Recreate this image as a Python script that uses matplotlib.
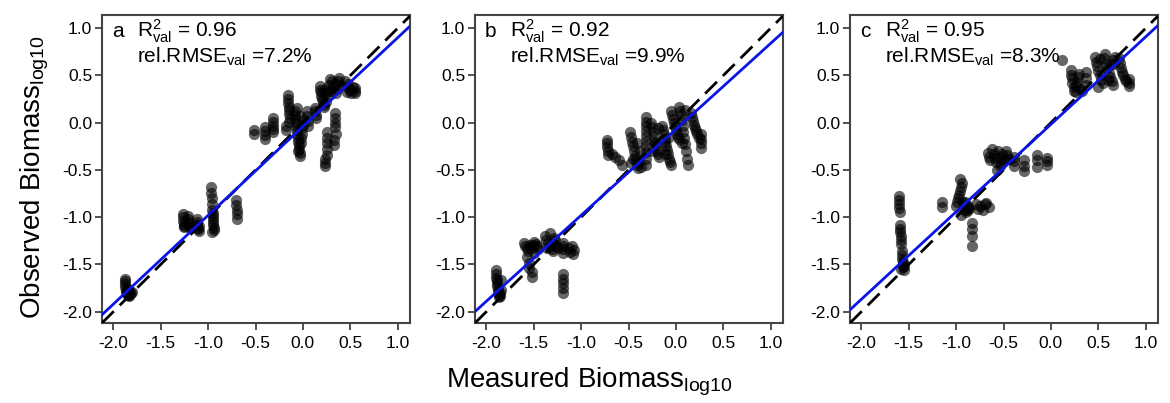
import matplotlib
matplotlib.use('Agg')
import matplotlib.pyplot as plt

plt.rcParams['font.family'] = ['Liberation Sans', 'DejaVu Sans']
plt.rcParams['mathtext.fontset'] = 'custom'
plt.rcParams['mathtext.rm'] = 'Liberation Sans'
plt.rcParams['mathtext.it'] = 'Liberation Sans:italic'

# --- panel a: measured vs observed (log10) ---
xa = [-1.88, -1.88, -1.88, -1.88, -1.87, -1.87, -1.86, -1.85, -1.84, -1.83, -1.82, -1.81, -1.80, -1.83, -1.85, -1.86,
      -1.27, -1.27, -1.27, -1.26, -1.26, -1.25, -1.21, -1.21, -1.20, -1.20, -1.19, -1.18,
      -1.12, -1.12, -1.12, -1.11, -1.11, -1.10, -1.10,
      -0.97, -0.97, -0.96, -0.96, -0.96, -0.95, -0.95, -0.95, -0.95, -0.95, -0.94, -0.94, -0.96,
      -0.71, -0.71, -0.70, -0.70, -0.70,
      -0.52, -0.52, -0.40, -0.40, -0.40, -0.40, -0.32, -0.32, -0.32, -0.32, -0.32,
      -0.16, -0.16, -0.16, -0.15, -0.15, -0.15, -0.14, -0.15, -0.18, -0.18,
      -0.08, -0.08, -0.08, -0.07, -0.07, -0.06, -0.06, -0.05, -0.05, -0.04, -0.04, -0.03, -0.03,
      -0.02, -0.02, -0.01, -0.01, 0.00, 0.00, -0.05, -0.03, -0.06,
      0.04, 0.04, 0.05, 0.05, 0.13, 0.13, 0.14, 0.14,
      0.18, 0.18, 0.19, 0.19, 0.20, 0.21, 0.22, 0.22, 0.23, 0.23, 0.25, 0.24, 0.26,
      0.25, 0.25, 0.25, 0.25, 0.25, 0.23, 0.23, 0.23,
      0.34, 0.34, 0.34, 0.34, 0.35, 0.33, 0.33,
      0.28, 0.29, 0.30, 0.31, 0.32, 0.34, 0.35, 0.36, 0.37, 0.38, 0.39, 0.44, 0.46, 0.47,
      0.48, 0.50, 0.51, 0.53, 0.55, 0.55, 0.55]
ya = [-1.65, -1.68, -1.71, -1.74, -1.77, -1.79, -1.81, -1.82, -1.83, -1.82, -1.81, -1.80, -1.79, -1.78, -1.76, -1.80,
      -0.97, -1.00, -1.04, -1.07, -1.10, -1.09, -0.99, -1.02, -1.05, -1.08, -1.11, -1.10,
      -1.02, -1.05, -1.08, -1.11, -1.13, -1.15, -1.09,
      -0.68, -0.74, -0.80, -0.86, -0.92, -0.96, -0.99, -1.02, -1.05, -1.08, -1.11, -1.14, -1.16,
      -0.82, -0.87, -0.92, -0.97, -1.02,
      -0.08, -0.12, -0.05, -0.09, -0.13, -0.17, 0.05, 0.01, -0.03, -0.07, -0.10,
      0.29, 0.25, 0.21, 0.17, 0.13, 0.09, 0.05, 0.01, -0.04, -0.08,
      0.12, 0.08, 0.04, 0.00, -0.04, -0.08, -0.12, -0.16, -0.20, -0.24, -0.28, -0.32, -0.35,
      -0.22, -0.16, -0.12, -0.06, -0.02, 0.03, -0.30, 0.07, 0.16,
      0.12, 0.07, 0.02, -0.04, 0.16, 0.12, 0.08, 0.05,
      0.39, 0.35, 0.32, 0.28, 0.25, 0.22, 0.19, 0.17, 0.36, 0.31, 0.28, 0.22, 0.34,
      -0.10, -0.16, -0.22, -0.28, -0.34, -0.38, -0.43, -0.46,
      0.10, 0.05, 0.00, -0.05, -0.12, -0.18, -0.24,
      0.40, 0.46, 0.34, 0.44, 0.38, 0.42, 0.31, 0.36, 0.44, 0.47, 0.40, 0.44, 0.38, 0.33,
      0.41, 0.35, 0.31, 0.38, 0.37, 0.34, 0.31]

# --- panel b ---
xb = [-1.90, -1.90, -1.90, -1.89, -1.89, -1.89, -1.88, -1.88, -1.87, -1.87, -1.86, -1.86, -1.85, -1.85,
      -1.60, -1.59, -1.57, -1.56, -1.54, -1.53, -1.51, -1.50, -1.48, -1.47, -1.45,
      -1.57, -1.55, -1.55, -1.52, -1.52, -1.50,
      -1.38, -1.37, -1.35, -1.33, -1.31, -1.30, -1.28, -1.27, -1.24, -1.33, -1.29, -1.36, -1.30,
      -1.19, -1.19, -1.19, -1.19, -1.19, -1.19, -1.19, -1.19, -1.19, -1.13, -1.12, -1.10, -1.08, -1.09,
      -0.73, -0.73, -0.73, -0.72, -0.72, -0.67, -0.64, -0.60, -0.57,
      -0.48, -0.47, -0.46, -0.45, -0.44, -0.43, -0.42, -0.41, -0.40, -0.39, -0.38, -0.37, -0.45, -0.41, -0.47,
      -0.32, -0.32, -0.32, -0.32, -0.32, -0.32, -0.32, -0.32, -0.32, -0.32,
      -0.26, -0.25, -0.24, -0.23, -0.22, -0.21, -0.20, -0.19, -0.18, -0.25, -0.19, -0.22,
      -0.15, -0.14, -0.13, -0.12, -0.11, -0.10, -0.09, -0.08, -0.07, -0.06, -0.05, -0.12, -0.08,
      -0.05, -0.04, -0.03, -0.02, -0.01, 0.00, 0.01, 0.02, 0.03,
      0.03, 0.04, 0.05, 0.06, 0.07, 0.08, 0.09, 0.10, 0.11, 0.12, 0.13, 0.06, 0.10,
      0.16, 0.17, 0.18, 0.19, 0.20, 0.21, 0.22, 0.24, 0.27, 0.27, 0.27, 0.27]
yb = [-1.56, -1.60, -1.64, -1.67, -1.70, -1.73, -1.76, -1.79, -1.82, -1.85, -1.83, -1.80, -1.77, -1.66,
      -1.27, -1.30, -1.33, -1.36, -1.29, -1.33, -1.29, -1.26, -1.28, -1.31, -1.34,
      -1.42, -1.48, -1.54, -1.58, -1.63, -1.38,
      -1.20, -1.24, -1.27, -1.31, -1.34, -1.28, -1.24, -1.30, -1.33, -1.17, -1.22, -1.33, -1.36,
      -1.27, -1.30, -1.34, -1.38, -1.60, -1.65, -1.70, -1.75, -1.80, -1.33, -1.37, -1.31, -1.35, -1.39,
      -0.18, -0.22, -0.26, -0.30, -0.34, -0.33, -0.36, -0.40, -0.45,
      -0.10, -0.15, -0.20, -0.25, -0.30, -0.35, -0.40, -0.45, -0.48, -0.42, -0.30, -0.47, -0.38, -0.22, -0.43,
      0.06, 0.01, -0.04, -0.09, -0.14, -0.19, -0.25, -0.31, -0.38, -0.45,
      0.00, -0.05, -0.10, -0.15, -0.20, -0.25, -0.30, -0.33, -0.36, -0.30, -0.06, -0.22,
      -0.04, -0.08, -0.12, -0.17, -0.21, -0.25, -0.29, -0.33, -0.38, -0.42, -0.45, -0.33, -0.16,
      0.12, 0.08, 0.04, 0.00, -0.04, -0.08, -0.12, -0.15, -0.17,
      0.17, 0.12, 0.08, 0.03, -0.04, -0.10, -0.16, -0.23, -0.30, -0.38, -0.45, -0.22, 0.13,
      0.10, 0.06, 0.02, -0.02, -0.06, -0.09, -0.12, -0.16, -0.12, -0.17, -0.22, -0.27]

# --- panel c ---
xc = [-1.60, -1.60, -1.60, -1.60, -1.59, -1.59, -1.59, -1.59, -1.58, -1.58, -1.58, -1.57, -1.57, -1.57,
      -1.56, -1.56, -1.56, -1.55, -1.55, -1.58,
      -1.15, -1.15,
      -1.00, -0.99, -0.98, -0.97, -0.96, -0.95, -0.94, -0.93, -0.92, -0.91, -0.90, -0.89, -0.88, -0.87,
      -0.86, -0.95, -0.91, -0.96,
      -0.83, -0.83, -0.83, -0.83, -0.79, -0.77, -0.75, -0.72, -0.70, -0.68, -0.65,
      -0.66, -0.65, -0.64, -0.62, -0.60, -0.59, -0.58, -0.56, -0.55, -0.53, -0.52, -0.50, -0.49, -0.47,
      -0.46, -0.44, -0.57, -0.54,
      -0.39, -0.39, -0.39, -0.28, -0.28, -0.28, -0.15, -0.15, -0.15, -0.04, -0.04, -0.04,
      0.12, 0.21, 0.21, 0.22, 0.22, 0.24, 0.24, 0.26, 0.26, 0.28, 0.29, 0.30, 0.32, 0.33, 0.37, 0.37, 0.37,
      0.47, 0.48, 0.49, 0.50, 0.52, 0.53, 0.55, 0.56, 0.58, 0.59, 0.61, 0.62, 0.64, 0.65, 0.66, 0.67,
      0.68, 0.50, 0.57, 0.63, 0.52, 0.60,
      0.72, 0.73, 0.74, 0.75, 0.76, 0.78, 0.79, 0.82, 0.82, 0.82]
yc = [-0.78, -0.82, -0.86, -0.90, -0.94, -1.08, -1.12, -1.16, -1.20, -1.24, -1.28, -1.36, -1.40, -1.44,
      -1.47, -1.50, -1.53, -1.56, -1.52, -1.55,
      -0.84, -0.89,
      -0.88, -0.84, -0.80, -0.76, -0.72, -0.68, -0.64, -0.84, -0.86, -0.92, -0.95, -0.90, -0.88, -0.92,
      -0.90, -0.98, -0.84, -0.60,
      -1.06, -1.12, -1.20, -1.30, -0.86, -0.91, -0.88, -0.92, -0.86, -0.85, -0.89,
      -0.32, -0.36, -0.40, -0.28, -0.33, -0.37, -0.42, -0.30, -0.36, -0.44, -0.33, -0.38, -0.41, -0.30,
      -0.34, -0.38, -0.50, -0.46,
      -0.36, -0.41, -0.46, -0.40, -0.46, -0.51, -0.34, -0.40, -0.47, -0.37, -0.41, -0.45,
      0.66, 0.56, 0.50, 0.47, 0.42, 0.38, 0.34, 0.33, 0.40, 0.42, 0.48, 0.52, 0.36, 0.34, 0.54, 0.47, 0.40,
      0.70, 0.64, 0.60, 0.55, 0.50, 0.45, 0.42, 0.68, 0.62, 0.58, 0.53, 0.48, 0.44, 0.40, 0.66, 0.62,
      0.70, 0.38, 0.73, 0.62, 0.67, 0.45,
      0.68, 0.63, 0.58, 0.54, 0.50, 0.46, 0.44, 0.46, 0.42, 0.39]

xs = [xa, xb, xc]
ys = [ya, yb, yc]
letters = ['a', 'b', 'c']
r2 = ['0.96', '0.92', '0.95']
rmse = ['7.2%', '9.9%', '8.3%']
# blue regression lines (slope, intercept)
fits = [(0.94, -0.04), (0.91, -0.07), (0.926, -0.017)]

ticks = [-2.0, -1.5, -1.0, -0.5, 0.0, 0.5, 1.0]
lims = (-2.12, 1.13)

fig = plt.figure(figsize=(11.7, 4.03), dpi=100)
lefts = [102 / 1170, 475 / 1170, 850 / 1170]

for i in range(3):
    ax = fig.add_axes([lefts[i], 80 / 403, 308 / 1170, 308 / 403])
    ax.scatter(xs[i], ys[i], s=65, c='black', alpha=0.6, linewidths=0, zorder=2)
    ax.axline((0, 0), slope=1, color='black', lw=2, ls=(0, (6, 3)), zorder=3)
    ax.axline((0, fits[i][1]), slope=fits[i][0], color='#0a14e6', lw=2, zorder=4)
    ax.set_xlim(lims)
    ax.set_ylim(-2.12, 1.14)
    ax.set_xticks(ticks)
    ax.set_yticks(ticks)
    ax.set_xticklabels(['%.1f' % t for t in ticks])
    ax.set_yticklabels(['%.1f' % t for t in ticks])
    ax.tick_params(direction='out', length=5, width=1.2, labelsize=12.5, pad=2, color='#333333')
    ax.tick_params(axis='x', pad=4)
    for sp in ax.spines.values():
        sp.set_linewidth(1.5)
        sp.set_color('#444444')
    ax.text(0.032, 0.929, letters[i], transform=ax.transAxes, fontsize=15)
    ax.text(0.114, 0.929, r'R$^{2}_{\rm val}$ = ' + r2[i], transform=ax.transAxes, fontsize=15)
    ax.text(0.114, 0.844, r'rel.RMSE$_{\rm val}$ =' + rmse[i], transform=ax.transAxes, fontsize=15)

fig.text(0.03, 0.56, r'Observed Biomass$_{\rm log10}$', rotation=90, fontsize=20,
         ha='center', va='center')
fig.text(0.504, 0.052, r'Measured Biomass$_{\rm log10}$', fontsize=20, ha='center', va='center')

fig.savefig('out.png', dpi=100)
